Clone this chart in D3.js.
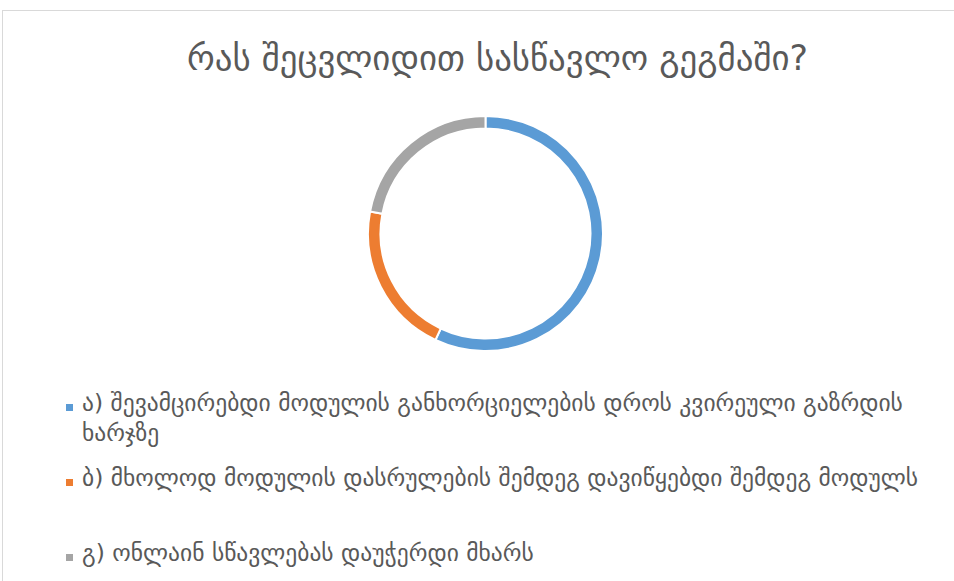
<!DOCTYPE html>
<html><head><meta charset="utf-8">
<script src="https://cdn.jsdelivr.net/npm/d3@7"></script>
<style>html,body{margin:0;padding:0;background:#fff;overflow:hidden}</style>
</head><body>
<svg id="c" width="954" height="581"></svg>
<script>
const title = "რას შეცვლიდით სასწავლო გეგმაში?";
const categories = [
  "ა) შევამცირებდი მოდულის განხორციელების დროს კვირეული გაზრდის ხარჯზე",
  "ბ) მხოლოდ მოდულის დასრულების შემდეგ დავიწყებდი შემდეგ მოდულს",
  "გ) ონლაინ სწავლებას დაუჭერდი მხარს"
];
const values = [57, 21, 22];
const colors = ["#5B9BD5", "#ED7D31", "#A5A5A5"];

const svg = d3.select("#c");
const FONT = "'DejaVu Sans', 'Noto Sans', sans-serif";
const TXT = "#595959";

svg.append("rect").attr("x", 2.5).attr("y", 10.5).attr("width", 1100).attr("height", 1100)
  .attr("fill", "#fff").attr("stroke", "#d9d9d9").attr("stroke-width", 1);

// fit helper
function fit(sel, target) {
  let fs = parseFloat(sel.attr("font-size"));
  for (let i = 0; i < 4; i++) {
    const w = sel.node().getComputedTextLength();
    fs = fs * target / w;
    sel.attr("font-size", fs);
  }
  return fs;
}

const t = svg.append("text").attr("x", 497.5).attr("y", 70).attr("text-anchor", "middle")
  .attr("font-family", FONT).attr("font-size", 24).attr("fill", TXT).text(title);
fit(t, 621);

// donut
const cx = 485.5, cy = 233.5;
const pie = d3.pie().sort(null).value(d => d);
const arc = d3.arc().innerRadius(105).outerRadius(117.5);
svg.append("g").attr("transform", `translate(${cx},${cy})`)
  .selectAll("path").data(pie(values)).join("path")
  .attr("d", arc).attr("fill", (d, i) => colors[i])
  .attr("stroke", "#fff").attr("stroke-width", 2);

// legend
const probe = svg.append("text").attr("font-family", FONT).attr("font-size", 18).text(categories[1]);
const lfs = fit(probe, 836);
probe.remove();

const itemY = [411, 486, 561];
const textX = 82, maxW = 850, lineH = 30;
categories.forEach((c, i) => {
  svg.append("rect").attr("x", 66).attr("y", itemY[i] - 7).attr("width", 7).attr("height", 7)
    .attr("fill", colors[i]);
  const tx = svg.append("text").attr("x", textX).attr("y", itemY[i])
    .attr("font-family", FONT).attr("font-size", lfs).attr("fill", TXT);
  const words = c.split(" ");
  let line = [], ts = tx.append("tspan").attr("x", textX).attr("dy", 0);
  words.forEach(w => {
    line.push(w);
    ts.text(line.join(" "));
    if (ts.node().getComputedTextLength() > maxW && line.length > 1) {
      line.pop(); ts.text(line.join(" "));
      line = [w];
      ts = tx.append("tspan").attr("x", textX).attr("dy", lineH).text(w);
    }
  });
});
</script>
</body></html>
